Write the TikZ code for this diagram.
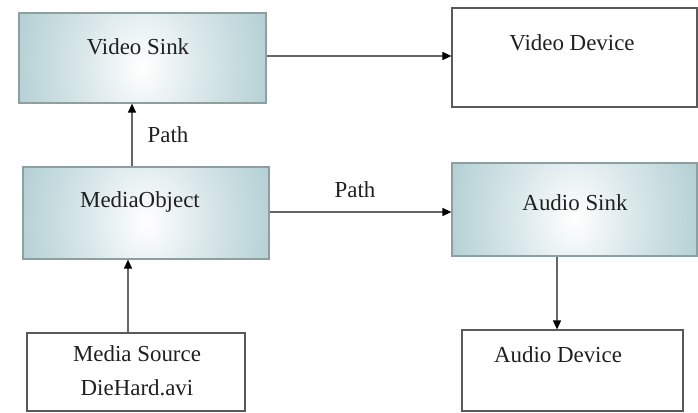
\documentclass[tikz,border=0pt]{standalone}
\usepackage{fontspec}
\setmainfont{Liberation Serif}
\usetikzlibrary{arrows.meta}
\definecolor{boxedge}{HTML}{9EC2C8}
\definecolor{sinkline}{HTML}{8E9FA2}
\definecolor{plainline}{HTML}{5A5A5A}
\definecolor{conn}{HTML}{666666}
\definecolor{txt}{HTML}{202020}
\pgfdeclareradialshading{sinkshade}{\pgfpoint{0bp}{0bp}}{color(0bp)=(white); color(12bp)=(boxedge!38!white); color(25bp)=(boxedge!74!white); color(40bp)=(boxedge!95!white); color(50bp)=(boxedge)}
\tikzset{
  sinkbox/.style={draw=sinkline, line width=1.2bp, inner sep=0pt,
    path picture={\shade[shading=sinkshade]
      ([yshift=98bp]path picture bounding box.north west) rectangle
      ([yshift=-116bp]path picture bounding box.south east);}},
  plainbox/.style={draw=plainline, line width=1.2bp, inner sep=0pt, fill=white},
  lbl/.style={text=txt, font=\fontsize{23}{27}\selectfont, inner sep=0pt},
  conn/.style={draw=conn, line width=1.4bp, -{Triangle[length=9bp,width=8bp,fill=black,color=black]}},
}
\begin{document}
\begin{tikzpicture}[x=1bp,y=-1bp]
\useasboundingbox (0,0) rectangle (698,412);
\node[sinkbox, minimum width=247bp, minimum height=90bp] (vs) at (142.5,58) {};
\node[plainbox, minimum width=245bp, minimum height=99bp] (vd) at (574.5,57.5) {};
\node[sinkbox, minimum width=246bp, minimum height=92bp] (mo) at (146,213) {};
\node[sinkbox, minimum width=245bp, minimum height=93bp] (as) at (574.5,209.5) {};
\node[plainbox, minimum width=218bp, minimum height=78bp] (ms) at (136,372) {};
\node[plainbox, minimum width=221bp, minimum height=81bp] (ad) at (572.5,370.5) {};

\node[lbl] (tvs) at (138,47) {Video Sink};
\node[lbl] (tvd) at (572,43) {Video Device};
\node[lbl] (tmo) at (140,202) {MediaObject};
\node[lbl] (tas) at (575,203) {Audio Sink};
\node[lbl] (tms1) at (137,354) {Media Source};
\node[lbl] (tms2) at (137,388) {DieHard.avi};
\node[lbl] (tad) at (558,355) {Audio Device};

\draw[conn] (vs.east |- 0,56) -- (vd.west |- 0,56);
\draw[conn] (mo.north -| 132,0) -- (vs.south -| 132,0);
\draw[conn] (mo.east |- 0,212) -- (as.west |- 0,212);
\draw[conn] (ms.north -| 128,0) -- (mo.south -| 128,0);
\draw[conn] (as.south -| 557,0) -- (ad.north -| 557,0);

\node[lbl] (p1) at (168,135) {Path};
\node[lbl] (p2) at (355,190) {Path};
\end{tikzpicture}
\end{document}
